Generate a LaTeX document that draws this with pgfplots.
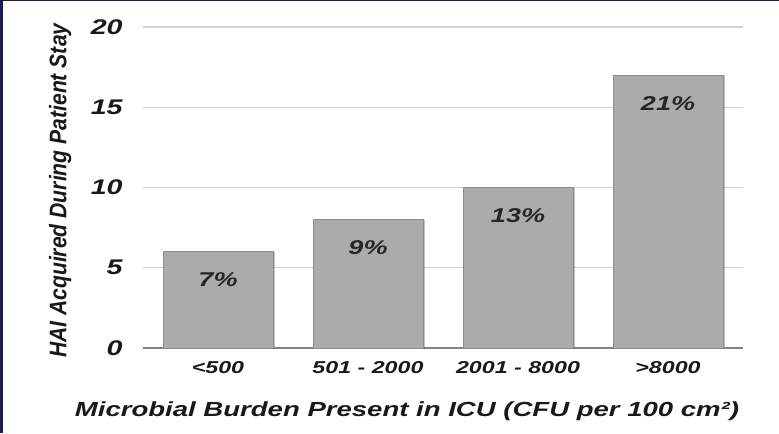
\documentclass[border=0pt]{standalone}
\usepackage{fontspec}
\setmainfont{Liberation Sans}
\newfontfamily\wide{Liberation Sans}[FakeStretch=1.35]
\newfontfamily\narrow{Liberation Sans}[FakeStretch=0.88]
\usepackage{pgfplots}
\pgfplotsset{compat=1.18}
\usetikzlibrary{shadows}
\definecolor{barfill}{RGB}{171,171,171}
\definecolor{baredge}{RGB}{140,140,140}
\definecolor{gridc}{RGB}{208,208,208}
\definecolor{axisc}{RGB}{130,130,130}
\definecolor{navyb}{RGB}{22,28,88}
\begin{document}
\begin{tikzpicture}
\begin{axis}[
  name=ax,
  scale only axis, width=300pt, height=160.5pt,
  xmin=-0.5, xmax=3.5, ymin=0, ymax=20,
  ybar, bar width=55pt,
  axis x line*=bottom, axis y line*=left,
  x axis line style={draw=axisc, line width=0.9pt},
  y axis line style={draw=none},
  major tick length=0pt,
  ytick={0,5,10,15,20},
  ymajorgrids, grid style={draw=gridc, line width=0.7pt},
  xtick={0,1,2,3},
  xticklabels={{<500},{501 - 2000},{2001 - 8000},{>8000}},
  /pgf/number format/assume math mode=true,
  yticklabel style={font=\wide\bfseries\itshape\fontsize{10.6}{12}\selectfont, anchor=east, inner sep=0pt, xshift=-10pt, text=black!90},
  xticklabel style={font=\wide\bfseries\itshape\fontsize{8.6}{10}\selectfont, anchor=center, inner sep=0pt, yshift=-10pt, text=black!90},
  ylabel={HAI Acquired During Patient Stay},
  ylabel style={font=\narrow\bfseries\itshape\fontsize{12}{14}\selectfont, at={(axis description cs:-0.138,0.49)}, anchor=center, text=black!90},
  xlabel={Microbial Burden Present in ICU (CFU per 100 cm²)},
  xlabel style={font=\wide\bfseries\itshape\fontsize{10.2}{12}\selectfont, at={(axis description cs:0.44,-0.198)}, anchor=center, text=black!90},
]
\addplot[fill=barfill, draw=baredge, line width=0.5pt,
  drop shadow={shadow xshift=0.8pt, shadow yshift=-0.3pt, opacity=0.25, fill=black},
  point meta=explicit symbolic, nodes near coords,
  nodes near coords style={anchor=center, yshift=-14pt, text=black!85, font=\wide\bfseries\itshape\fontsize{10}{12}\selectfont}]
  coordinates {(0,6)[7\%] (1,8)[9\%] (2,10)[13\%] (3,17)[21\%]};
\end{axis}
\pgfresetboundingbox
\path[use as bounding box] ([xshift=-71.5pt,yshift=-42.5pt]ax.south west) rectangle ([xshift=18pt,yshift=13.5pt]ax.north east);
\fill[navyb] ([xshift=-71.5pt,yshift=-42.5pt]ax.south west) rectangle ([xshift=-70pt,yshift=13.5pt]ax.north west);
\fill[navyb] ([xshift=-71.5pt,yshift=12.8pt]ax.north west) rectangle ([xshift=18pt,yshift=13.5pt]ax.north east);
\end{tikzpicture}
\end{document}
